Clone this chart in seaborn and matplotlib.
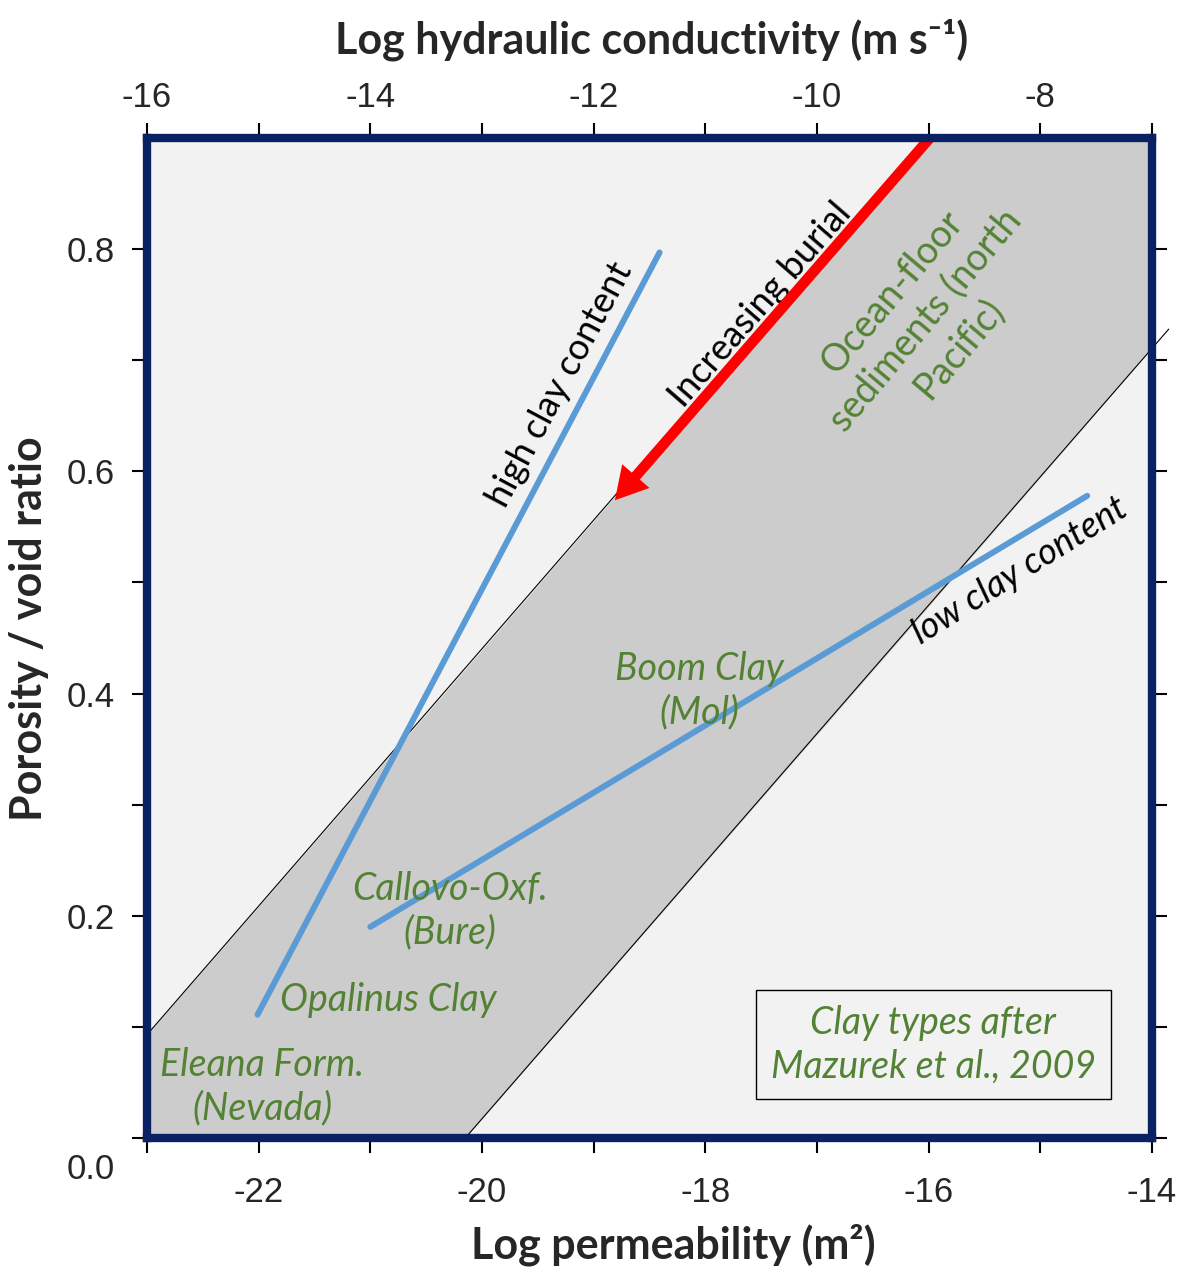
import numpy as np
import pandas as pd
import matplotlib
matplotlib.use("Agg")
import matplotlib.pyplot as plt
import matplotlib.transforms as mtransforms
from matplotlib.ticker import MultipleLocator, FixedLocator, FuncFormatter
import seaborn as sns

# band of ocean-floor sediments (log permeability vs porosity)
band_x = [-23.0, -20.15, -16.03, -14.0]
band_lower = [0.0, 0.0, 0.475, 0.711]
band_upper = [0.093, 0.422, 0.9, 0.9]
upper_edge_x = [-23.0, -16.03]
upper_edge_y = [0.093, 0.9]
lower_edge_x = [-20.15, -13.85]
lower_edge_y = [0.0, 0.728]

# clay trend lines
high_clay_x = [-22.01, -18.41]
high_clay_y = [0.111, 0.797]
low_clay_x = [-21.0, -14.58]
low_clay_y = [0.19, 0.578]

# burial arrow (start -> tip)
burial_start = (-15.99, 0.9)
burial_tip = (-18.81, 0.574)

# labelled clays
clay_names = ["Boom Clay\n(Mol)", "Callovo-Oxf.\n(Bure)", "Opalinus Clay",
              "Eleana Form.\n(Nevada)"]
clay_x = [-18.05, -20.29, -20.84, -21.97]
clay_y = [0.403, 0.205, 0.124, 0.046]

perm_ticks = [-22, -20, -18, -16, -14]
cond_ticks = [-16, -14, -12, -10, -8]
por_ticks = [0.0, 0.2, 0.4, 0.6, 0.8]
por_minor = [0.1, 0.3, 0.5, 0.7]

sns.set_theme(style="white")
plt.rcParams["font.family"] = ["Lato", "DejaVu Sans"]

green = "#548235"
navy = "#0a2264"
blue = "#5b9bd5"

fig = plt.figure(figsize=(11.81, 12.68), dpi=100)
ax = fig.add_axes([147 / 1181, 1 - 1138 / 1268, 1005 / 1181, 1000 / 1268])
ax.set_facecolor("#f2f2f2")
ax.set_xlim(-23, -14)
ax.set_ylim(0, 0.9)

ax.fill_between(band_x, band_lower, band_upper, color="#cccccc", lw=0, zorder=1)
ax.plot(upper_edge_x, upper_edge_y, color="black", lw=0.8, zorder=2)
ax.plot(lower_edge_x, lower_edge_y, color="black", lw=0.8, zorder=2, clip_on=False)

sns.lineplot(x=high_clay_x, y=high_clay_y, ax=ax, color=blue, lw=4.3, zorder=3)
sns.lineplot(x=low_clay_x, y=low_clay_y, ax=ax, color=blue, lw=4.3, zorder=3)

ax.annotate("", xy=burial_tip, xytext=burial_start,
            arrowprops=dict(arrowstyle="simple,head_length=1.15,head_width=1.3,tail_width=0.38",
                            mutation_scale=20, fc="red", ec="none", lw=0,
                            shrinkA=0, shrinkB=0), zorder=4)

# annotations
ax.text(-19.30, 0.678, "high clay content", rotation=62, fontsize=26,
        ha="center", va="center", rotation_mode="anchor", color="black")
ax.text(-17.51, 0.75, "Increasing burial", rotation=49, fontsize=26,
        ha="center", va="center", rotation_mode="anchor", color="black")
ax.text(-15.18, 0.511, "low clay content", rotation=32, fontsize=26,
        ha="center", va="center", rotation_mode="anchor", color="black",
        style="italic")
ax.text(-16.03, 0.736, "Ocean-floor\nsediments (north\nPacific)", rotation=50,
        fontsize=27, ha="center", va="center", rotation_mode="anchor",
        color=green, linespacing=1.25, multialignment="center")
for name, cx, cy in zip(clay_names, clay_x, clay_y):
    ax.text(cx, cy, name, fontsize=27, ha="center", va="center", color=green,
            style="italic", linespacing=1.25, multialignment="center")

ax.text(-15.96, 0.084, "Clay types after\nMazurek et al., 2009", fontsize=27,
        ha="center", va="center", color=green, style="italic", linespacing=1.25,
        bbox=dict(boxstyle="square,pad=0.4", fc="#f2f2f2", ec="black", lw=1))

# frame and ticks
for s in ax.spines.values():
    s.set_visible(True)
    s.set_color(navy)
    s.set_linewidth(6)
    s.set_zorder(5)

ax.xaxis.set_major_locator(FixedLocator(perm_ticks))
ax.xaxis.set_minor_locator(MultipleLocator(1))
ax.yaxis.set_major_locator(FixedLocator(por_ticks))
ax.yaxis.set_minor_locator(FixedLocator(por_minor))
ax.yaxis.set_major_formatter(FuncFormatter(lambda v, p: f"{v:.1f}"))
ax.xaxis.set_major_formatter(FuncFormatter(lambda v, p: f"{v:.0f}"))
ax.tick_params(which="both", direction="out", length=11, width=1.5, color="black",
               bottom=True, left=True, right=True, top=False)
ax.tick_params(axis="x", which="major", pad=16, labelsize=25, labelfontfamily="Liberation Sans")
ax.tick_params(axis="y", which="major", pad=12, labelsize=25, labelfontfamily="Liberation Sans")

sec = ax.secondary_xaxis("top", functions=(lambda x: x + 7, lambda x: x - 7))
sec.spines["top"].set_visible(False)
sec.xaxis.set_major_locator(FixedLocator(cond_ticks))
sec.xaxis.set_minor_locator(MultipleLocator(1))
sec.xaxis.set_major_formatter(FuncFormatter(lambda v, p: f"{v:.0f}"))
sec.tick_params(which="both", direction="out", length=11, width=1.5, color="black")
sec.tick_params(which="major", pad=6, labelsize=25, labelfontfamily="Liberation Sans")

# shift the 0.0 label down like the original
lbl = ax.yaxis.get_major_ticks()[0].label1
lbl.set_transform(lbl.get_transform() + mtransforms.ScaledTranslation(0, -0.28, fig.dpi_scale_trans))

ax.set_xlabel("Log permeability (m²)", fontsize=31, fontweight="bold")
ax.xaxis.set_label_coords(0.524, -0.085)
ax.set_ylabel("Porosity / void ratio", fontsize=31, fontweight="bold")
ax.yaxis.set_label_coords(-0.098, 0.509)
fig.text(652 / 1181, 1 - 40 / 1268, "Log hydraulic conductivity (m s⁻¹)",
         fontsize=31, fontweight="bold", ha="center", va="center")

fig.savefig("out.png", dpi=100, facecolor="white")
